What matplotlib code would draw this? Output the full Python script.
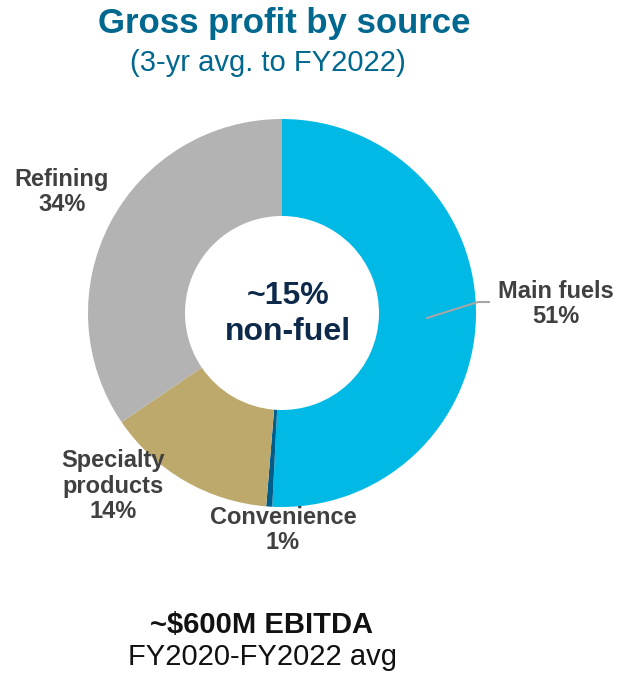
import matplotlib.pyplot as plt

plt.rcParams['font.family'] = ['Liberation Sans', 'DejaVu Sans']

# data
sources = ['Main fuels', 'Convenience', 'Specialty\nproducts', 'Refining']
shares = [50.8, 0.5, 14.2, 34.5]      # as drawn in the ring
share_labels = [51, 1, 14, 34]        # as printed on the labels
colors = ['#00B9E4', '#005E8D', '#BEA96C', '#B3B3B3']

W, H = 620, 673
fig = plt.figure(figsize=(W / 100, H / 100), dpi=100)
ax = fig.add_axes([0, 0, 1, 1])

cx, cy = 282, H - 313
r_out = 194
ax.pie(shares, colors=colors, startangle=90, counterclock=False,
       center=(cx, cy), radius=r_out,
       wedgeprops=dict(width=r_out * 0.5, linewidth=0))
ax.set_xlim(0, W)
ax.set_ylim(0, H)
ax.set_aspect('equal')
ax.axis('off')

def py(y):
  return H - y

# titles
ax.text(284, py(23), 'Gross profit by source', ha='center', va='center',
        fontsize=25, fontweight='bold', color='#00678F')
ax.text(268, py(63), '(3-yr avg. to FY2022)', ha='center', va='center',
        fontsize=21, color='#00678F')

# centre text
ax.text(288, py(314), '~15%\nnon-fuel', ha='center', va='center',
        fontsize=23, fontweight='bold', color='#0E2A4B', linespacing=1.22)

# labels
lab = dict(ha='center', va='center', fontsize=17, fontweight='bold',
           color='#404040', linespacing=1.12)
ax.text(556, py(304), '%s\n%d%%' % (sources[0], share_labels[0]), **lab)
ax.text(283, py(530), '%s\n%d%%' % (sources[1], share_labels[1]), **lab)
ax.text(113, py(486), '%s\n%d%%' % (sources[2], share_labels[2]), **lab)
ax.text(62, py(192), '%s\n%d%%' % (sources[3], share_labels[3]), **lab)

# leader line for main fuels
ax.plot([427, 478, 489], [py(318), py(302), py(302)], color='#A6A6A6', lw=1.5)

# footer
ax.text(262, py(625), '~$600M EBITDA', ha='center', va='center',
        fontsize=21, fontweight='bold', color='#111111')
ax.text(262, py(657), 'FY2020-FY2022 avg', ha='center', va='center',
        fontsize=21, color='#111111')

fig.savefig('out.png', dpi=100)
